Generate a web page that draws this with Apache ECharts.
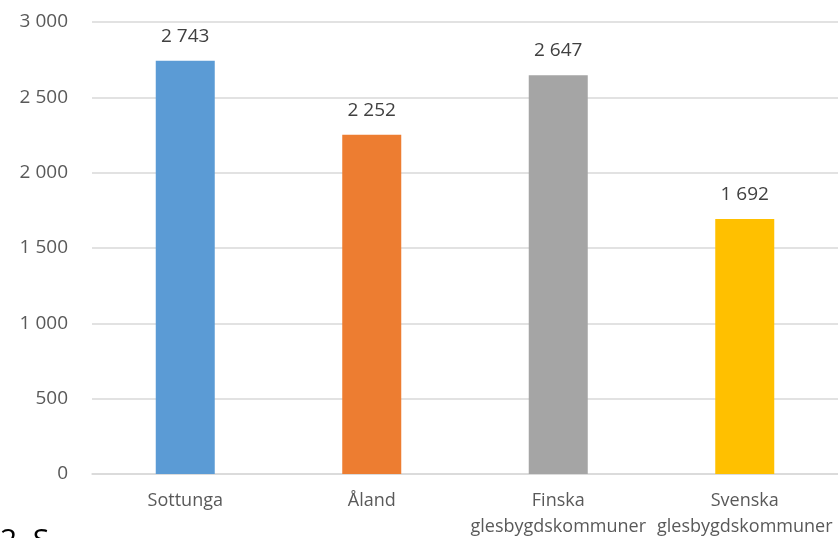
<!DOCTYPE html>
<html>
<head>
<meta charset="utf-8">
<script src="https://cdn.jsdelivr.net/npm/echarts@6/dist/echarts.min.js"></script>
<style>
  html, body { margin: 0; padding: 0; background: #fff; }
  #main { width: 838px; height: 538px; }
</style>
</head>
<body>
<div id="main"></div>
<script>
// data
const categories = ['Sottunga', 'Åland', 'Finska\nglesbygdskommuner', 'Svenska\nglesbygdskommuner'];
const values = [2743, 2252, 2647, 1692];
const barColors = ['#5b9bd5', '#ed7d31', '#a5a5a5', '#ffc000'];

const fmt = v => String(v).replace(/\B(?=(\d{3})+(?!\d))/g, ' ');

const myChart = echarts.init(document.getElementById('main'));
const option = {
  animation: false,
  textStyle: { fontFamily: '"Open Sans", sans-serif' },
  grid: { left: 92, right: 0, top: 22, bottom: 64, outerBoundsMode: 'none' },
  xAxis: {
    type: 'category',
    data: categories,
    axisTick: { show: false },
    axisLine: { lineStyle: { color: '#d9d9d9', width: 1.5 } },
    axisLabel: { color: '#595959', fontSize: 18, lineHeight: 26, margin: 14, interval: 0 }
  },
  yAxis: {
    type: 'value',
    min: 0,
    max: 3000,
    interval: 500,
    axisLine: { show: false },
    axisTick: { show: false },
    splitLine: { lineStyle: { color: '#d9d9d9', width: 1.5 } },
    axisLabel: { color: '#595959', fontSize: 19, margin: 24, formatter: fmt }
  },
  series: [{
    type: 'bar',
    barWidth: 59,
    data: values.map((v, i) => ({ value: v, itemStyle: { color: barColors[i] } })),
    label: {
      show: true,
      position: 'top',
      distance: 15,
      color: '#404040',
      fontSize: 19,
      formatter: p => fmt(p.value)
    }
  }],
  graphic: [{
    type: 'text',
    left: 0,
    top: 526,
    style: { text: '2. S', fill: '#000', fontSize: 30, fontFamily: '"Open Sans", sans-serif' }
  }]
};
myChart.setOption(option);
</script>
</body>
</html>
